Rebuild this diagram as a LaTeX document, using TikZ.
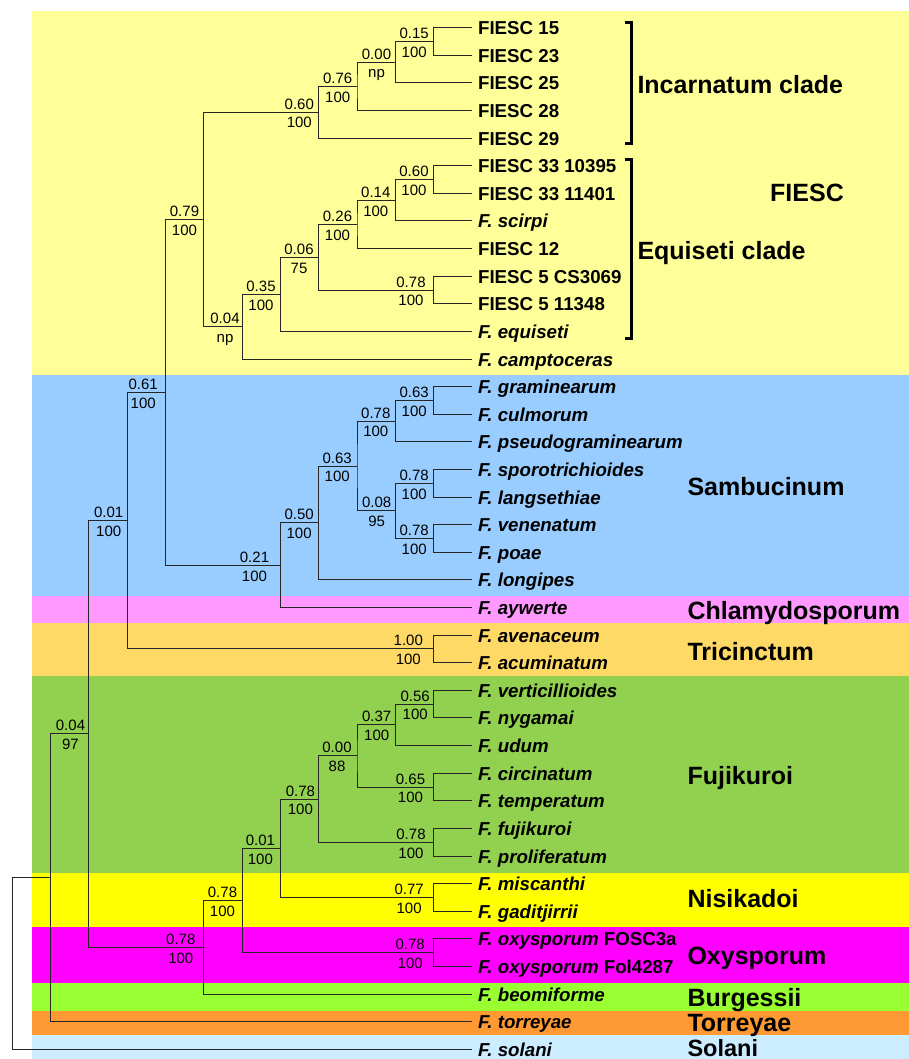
\documentclass[tikz,border=0pt]{standalone}
\usepackage{fontspec}
\setmainfont{Liberation Sans}
\definecolor{cFIESC}{HTML}{FFFF99}
\definecolor{cSamb}{HTML}{99CCFF}
\definecolor{cChlam}{HTML}{FF99FF}
\definecolor{cTric}{HTML}{FFD966}
\definecolor{cFuji}{HTML}{92D050}
\definecolor{cNisi}{HTML}{FFFF00}
\definecolor{cOxy}{HTML}{FF00FF}
\definecolor{cBurg}{HTML}{99FF33}
\definecolor{cTorr}{HTML}{FF9933}
\definecolor{cSola}{HTML}{CCECFF}
\newcommand\blab[5]{\node[bsv] (#1u) at (#2,#3-3) {#4}; \node[bsv] (#1d) at (#2,#3+15.8) {#5};}
\begin{document}
\begin{tikzpicture}[x=1pt,y=-1pt,
 br/.style={line width=1pt, draw=black!85},
 leaf/.style={anchor=west, inner xsep=6pt, inner ysep=0pt, text height=14pt, text depth=0pt, font=\fontsize{18.7}{20}\selectfont\bfseries},
 bsv/.style={anchor=base, inner sep=0pt, font=\fontsize{15}{16}\selectfont},
 grp/.style={anchor=base west, inner sep=0pt, font=\fontsize{25}{28}\selectfont\bfseries},
 brk/.style={line width=3pt, line join=miter}]
\useasboundingbox (0,0) rectangle (909,1059);
% bands
\fill[cFIESC] (31.7,11) rectangle (909,375);
\fill[cSamb] (31.7,375) rectangle (909,596);
\fill[cChlam] (31.7,596) rectangle (909,623);
\fill[cTric] (31.7,623) rectangle (909,676);
\fill[cFuji] (31.7,676) rectangle (909,873);
\fill[cNisi] (31.7,873) rectangle (909,927);
\fill[cOxy] (31.7,927) rectangle (909,983);
\fill[cBurg] (31.7,983) rectangle (909,1011);
\fill[cTorr] (31.7,1011) rectangle (909,1035);
\fill[cSola] (31.7,1035) rectangle (909,1059);
% leaves
\node[leaf] (l0) at (471.9,27.7) {FIESC 15};
\node[leaf] (l1) at (471.9,55.3) {FIESC 23};
\node[leaf] (l2) at (471.9,82.9) {FIESC 25};
\node[leaf] (l3) at (471.9,110.5) {FIESC 28};
\node[leaf] (l4) at (471.9,138.1) {FIESC 29};
\node[leaf] (l5) at (471.9,165.8) {FIESC 33 10395};
\node[leaf] (l6) at (471.9,193.4) {FIESC 33 11401};
\node[leaf] (l7) at (471.9,221.0) {\itshape F. scirpi};
\node[leaf] (l8) at (471.9,248.6) {FIESC 12};
\node[leaf] (l9) at (471.9,276.2) {FIESC 5 CS3069};
\node[leaf] (l10) at (471.9,303.8) {FIESC 5 11348};
\node[leaf] (l11) at (471.9,331.4) {\itshape F. equiseti};
\node[leaf] (l12) at (471.9,359.0) {\itshape F. camptoceras};
\node[leaf] (l13) at (471.9,386.6) {\itshape F. graminearum};
\node[leaf] (l14) at (471.9,414.2) {\itshape F. culmorum};
\node[leaf] (l15) at (471.9,441.9) {\itshape F. pseudograminearum};
\node[leaf] (l16) at (471.9,469.5) {\itshape F. sporotrichioides};
\node[leaf] (l17) at (471.9,497.1) {\itshape F. langsethiae};
\node[leaf] (l18) at (471.9,524.7) {\itshape F. venenatum};
\node[leaf] (l19) at (471.9,552.3) {\itshape F. poae};
\node[leaf] (l20) at (471.9,579.9) {\itshape F. longipes};
\node[leaf] (l21) at (471.9,607.5) {\itshape F. aywerte};
\node[leaf] (l22) at (471.9,635.1) {\itshape F. avenaceum};
\node[leaf] (l23) at (471.9,662.7) {\itshape F. acuminatum};
\node[leaf] (l24) at (471.9,690.3) {\itshape F. verticillioides};
\node[leaf] (l25) at (471.9,717.9) {\itshape F. nygamai};
\node[leaf] (l26) at (471.9,745.6) {\itshape F. udum};
\node[leaf] (l27) at (471.9,773.2) {\itshape F. circinatum};
\node[leaf] (l28) at (471.9,800.8) {\itshape F. temperatum};
\node[leaf] (l29) at (471.9,828.4) {\itshape F. fujikuroi};
\node[leaf] (l30) at (471.9,856.0) {\itshape F. proliferatum};
\node[leaf] (l31) at (471.9,883.6) {\itshape F. miscanthi};
\node[leaf] (l32) at (471.9,911.2) {\itshape F. gaditjirrii};
\node[leaf] (l33) at (471.9,938.8) {{\itshape F. oxysporum} FOSC3a};
\node[leaf] (l34) at (471.9,966.4) {{\itshape F. oxysporum} Fol4287};
\node[leaf] (l35) at (471.9,994.0) {\itshape F. beomiforme};
\node[leaf] (l36) at (471.9,1021.6) {\itshape F. torreyae};
\node[leaf] (l37) at (471.9,1049.3) {\itshape F. solani};
% internal nodes
\coordinate (nA) at (433.6,41.5);
\coordinate (nB) at (395.3,62.2);
\coordinate (nC) at (357,86.35);
\coordinate (nD) at (318.7,112.2);
\coordinate (nG) at (433.6,179.6);
\coordinate (nH) at (395.3,200.3);
\coordinate (nI) at (357,224.45);
\coordinate (nJ) at (433.6,290.0);
\coordinate (nK) at (318.7,257.2);
\coordinate (nL) at (280.4,294.3);
\coordinate (nF) at (242.1,326.65);
\coordinate (nE) at (203.8,219.4);
\coordinate (nS) at (433.6,400.4);
\coordinate (nQ) at (395.3,421.15);
\coordinate (nT) at (433.6,483.3);
\coordinate (nU) at (433.6,538.5);
\coordinate (nR) at (395.3,510.9);
\coordinate (nP) at (357,466.0);
\coordinate (nO) at (318.7,522.95);
\coordinate (nN) at (280.4,565.2);
\coordinate (nM) at (165.5,392.3);
\coordinate (nTr) at (433.6,648.9);
\coordinate (nW) at (127.2,520.6);
\coordinate (nAF) at (433.6,704.1);
\coordinate (nAE) at (395.3,724.85);
\coordinate (nCi) at (433.6,787.0);
\coordinate (nAD) at (357,755.9);
\coordinate (nFu) at (433.6,842.2);
\coordinate (nAC) at (318.7,799.05);
\coordinate (nNi) at (433.6,897.4);
\coordinate (nAB) at (280.4,848.2);
\coordinate (nOx) at (433.6,952.6);
\coordinate (nAA) at (242.1,900.4);
\coordinate (nY) at (203.8,947.2);
\coordinate (nX) at (88.9,733.9);
\coordinate (nZ) at (50.6,877.75);
\coordinate (nRoot) at (12.3,963.5);
% branches
\draw[br] (l0.west) -| (nA) |- (l1.west);
\draw[br] (nA) -| (nB) |- (l2.west);
\draw[br] (nB) -| (nC) |- (l3.west);
\draw[br] (nC) -| (nD) |- (l4.west);
\draw[br] (l5.west) -| (nG) |- (l6.west);
\draw[br] (nG) -| (nH) |- (l7.west);
\draw[br] (nH) -| (nI) |- (l8.west);
\draw[br] (l9.west) -| (nJ) |- (l10.west);
\draw[br] (nI) -| (nK) |- (nJ);
\draw[br] (nK) -| (nL) |- (l11.west);
\draw[br] (nL) -| (nF) |- (l12.west);
\draw[br] (nD) -| (nE) |- (nF);
\draw[br] (l13.west) -| (nS) |- (l14.west);
\draw[br] (nS) -| (nQ) |- (l15.west);
\draw[br] (l16.west) -| (nT) |- (l17.west);
\draw[br] (l18.west) -| (nU) |- (l19.west);
\draw[br] (nT) -| (nR) |- (nU);
\draw[br] (nQ) -| (nP) |- (nR);
\draw[br] (nP) -| (nO) |- (l20.west);
\draw[br] (nO) -| (nN) |- (l21.west);
\draw[br] (nE) -| (nM) |- (nN);
\draw[br] (l22.west) -| (nTr) |- (l23.west);
\draw[br] (nM) -| (nW) |- (nTr);
\draw[br] (l24.west) -| (nAF) |- (l25.west);
\draw[br] (nAF) -| (nAE) |- (l26.west);
\draw[br] (l27.west) -| (nCi) |- (l28.west);
\draw[br] (nAE) -| (nAD) |- (nCi);
\draw[br] (l29.west) -| (nFu) |- (l30.west);
\draw[br] (nAD) -| (nAC) |- (nFu);
\draw[br] (l31.west) -| (nNi) |- (l32.west);
\draw[br] (nAC) -| (nAB) |- (nNi);
\draw[br] (l33.west) -| (nOx) |- (l34.west);
\draw[br] (nAB) -| (nAA) |- (nOx);
\draw[br] (nAA) -| (nY) |- (l35.west);
\draw[br] (nW) -| (nX) |- (nY);
\draw[br] (nX) -| (nZ) |- (l36.west);
\draw[br] (nZ) -| (nRoot) |- (l37.west);
% support labels
\blab{bA}{414.2}{41.5}{0.15}{100}
\blab{bB}{376.5}{62.2}{0.00}{np}
\blab{bC}{337.7}{86.35}{0.76}{100}
\blab{bD}{299.3}{112.2}{0.60}{100}
\blab{bG}{414}{179.6}{0.60}{100}
\blab{bH}{375.8}{200.3}{0.14}{100}
\blab{bI}{337.5}{224.45}{0.26}{100}
\blab{bJ}{411}{290.0}{0.78}{100}
\blab{bK}{299}{257.2}{0.06}{75}
\blab{bL}{261}{294.3}{0.35}{100}
\blab{bF}{225}{326.65}{0.04}{np}
\blab{bE}{184.5}{219.4}{0.79}{100}
\blab{bS}{414.2}{400.4}{0.63}{100}
\blab{bQ}{375.8}{421.15}{0.78}{100}
\blab{bT}{414.2}{483.3}{0.78}{100}
\blab{bU}{414.2}{538.5}{0.78}{100}
\blab{bR}{376.7}{510.9}{0.08}{95}
\blab{bP}{337.2}{466.0}{0.63}{100}
\blab{bO}{299.1}{522.95}{0.50}{100}
\blab{bN}{254.5}{565.2}{0.21}{100}
\blab{bM}{143.2}{392.3}{0.61}{100}
\blab{bTr}{408.3}{648.9}{1.00}{100}
\blab{bW}{108.7}{520.6}{0.01}{100}
\blab{bAF}{415.2}{704.1}{0.56}{100}
\blab{bAE}{376.7}{724.85}{0.37}{100}
\blab{bCi}{410.5}{787.0}{0.65}{100}
\blab{bAD}{337}{755.9}{0.00}{88}
\blab{bFu}{411}{842.2}{0.78}{100}
\blab{bAC}{300.4}{799.05}{0.78}{100}
\blab{bNi}{409.1}{897.4}{0.77}{100}
\blab{bAB}{260.4}{848.2}{0.01}{100}
\blab{bOx}{410.2}{952.6}{0.78}{100}
\blab{bAA}{222.5}{900.4}{0.78}{100}
\blab{bY}{180.8}{947.2}{0.78}{100}
\blab{bX}{70.5}{733.9}{0.04}{97}
% brackets
\draw[brk] (625,22.7) -- (631,22.7) -- (631,144) -- (625,144);
\draw[brk] (625,159.3) -- (631,159.3) -- (631,338.3) -- (625,338.3);
% group labels
\node[grp] (gInc) at (637.3,93.3) {Incarnatum clade};
\node[grp] (gFIESC) at (770,201.7) {FIESC};
\node[grp] (gEqu) at (637.3,259.3) {Equiseti clade};
\node[grp] (gSam) at (687.3,495) {Sambucinum};
\node[grp] (gChl) at (687.3,619) {Chlamydosporum};
\node[grp] (gTri) at (687.3,660) {Tricinctum};
\node[grp] (gFuj) at (687.3,784) {Fujikuroi};
\node[grp] (gNis) at (687.3,907.3) {Nisikadoi};
\node[grp] (gOxy) at (687.3,964.7) {Oxysporum};
\node[grp] (gBur) at (687.3,1006.7) {Burgessii};
\node[grp] (gTor) at (687.3,1031.7) {Torreyae};
\node[grp, font=\fontsize{23.5}{26}\selectfont\bfseries] (gSol) at (687.3,1056.5) {Solani};
\end{tikzpicture}
\end{document}
